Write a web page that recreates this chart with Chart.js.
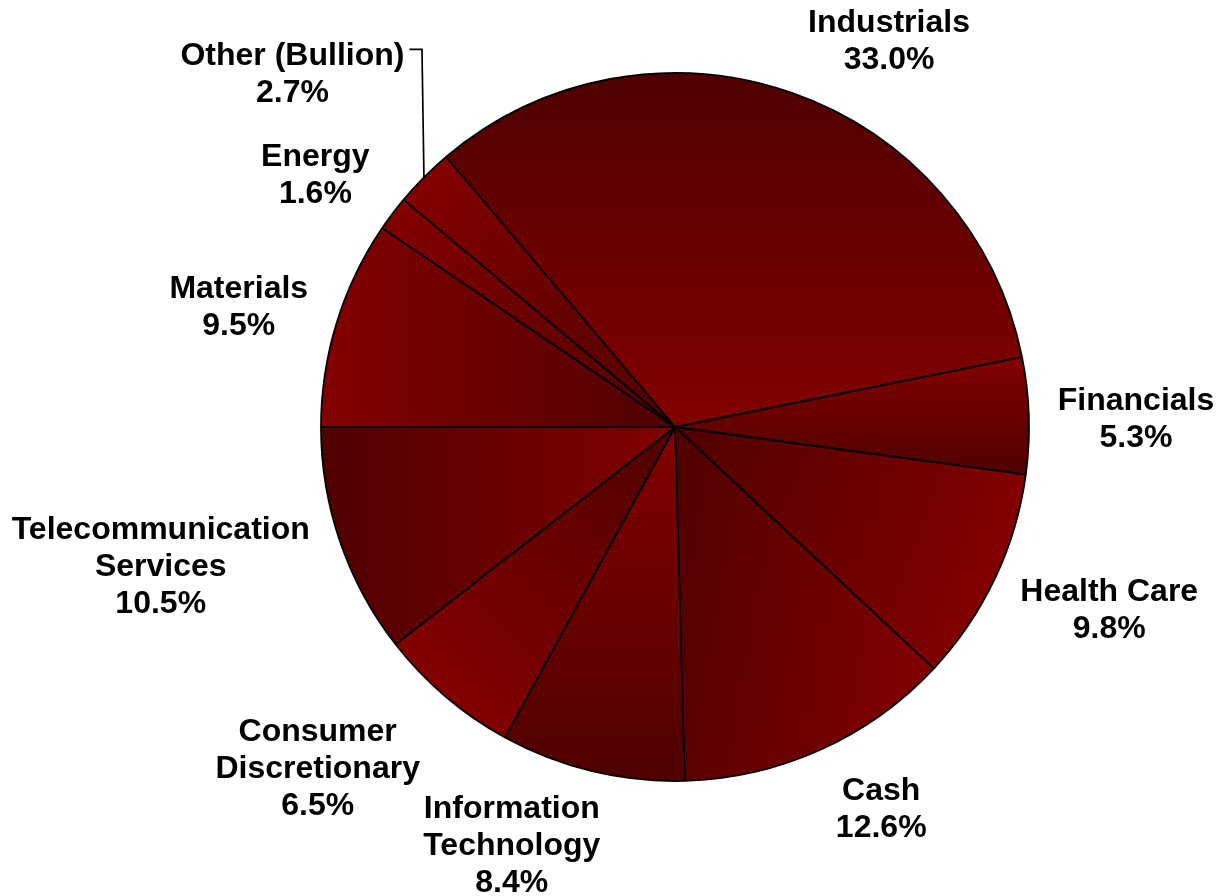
<!DOCTYPE html>
<html>
<head>
<meta charset="utf-8">
<title>Sector allocation</title>
<script src="https://cdn.jsdelivr.net/npm/chart.js@4.4.1/dist/chart.umd.min.js"></script>
<style>
  html, body { margin: 0; padding: 0; background: #fff; }
  canvas { display: block; }
</style>
</head>
<body>
<canvas id="sectorPie" width="1217" height="896"></canvas>
<script>
// sector weights, clockwise from the Industrials slice
const sectors = [
  'Industrials', 'Financials', 'Health Care', 'Cash',
  ['Information', 'Technology'], ['Consumer', 'Discretionary'],
  ['Telecommunication', 'Services'], 'Materials', 'Energy', 'Other (Bullion)'
];
const weights = [33.0, 5.3, 9.8, 12.6, 8.4, 6.5, 10.5, 9.5, 1.6, 2.7];

// gradient direction per slice (degrees, dark -> bright, screen coords)
const shadeDir = [90, 270, 20, 10, 270, 135, 0, 180, 225, 225];
const DARK = '#4f0000', BRIGHT = '#830000';

// label nudges from the default outside placement
const labelNudge = [
  [68, -15], [19, 3], [25, 12], [38, 20], [-57, 15],
  [-55, 25], [-29, 3], [-22, -6], [-26, -16], [-45, -77]
];
const leaderFor = [9];

const FONT = 'bold 32px "Liberation Sans", Arial, sans-serif';
const LINE = 37;
const ROTATION = -40.3;

function sliceFill(ctx) {
  const chart = ctx.chart;
  const area = chart.chartArea;
  if (ctx.type !== 'data' || !area) return BRIGHT;
  const data = ctx.dataset.data;
  const total = data.reduce((s, v) => s + v, 0);
  const before = data.slice(0, ctx.dataIndex).reduce((s, v) => s + v, 0);
  const a0 = ROTATION * Math.PI / 180 - Math.PI / 2 + before / total * 2 * Math.PI;
  const a1 = a0 + data[ctx.dataIndex] / total * 2 * Math.PI;
  const cx = (area.left + area.right) / 2, cy = (area.top + area.bottom) / 2;
  const r = chart.options.radius;
  const d = shadeDir[ctx.dataIndex] * Math.PI / 180;
  const ux = Math.cos(d), uy = Math.sin(d);
  // extent of the sector along the gradient direction
  let lo = 0, hi = 0;
  for (let i = 0; i <= 40; i++) {
    const a = a0 + (a1 - a0) * i / 40;
    const p = Math.cos(a) * r * ux + Math.sin(a) * r * uy;
    lo = Math.min(lo, p); hi = Math.max(hi, p);
  }
  const g = chart.ctx.createLinearGradient(cx + ux * lo, cy + uy * lo, cx + ux * hi, cy + uy * hi);
  g.addColorStop(0, DARK);
  g.addColorStop(1, BRIGHT);
  return g;
}

const outsideLabels = {
  id: 'outsideLabels',
  afterDraw(chart) {
    const ctx = chart.ctx;
    const meta = chart.getDatasetMeta(0);
    const values = chart.data.datasets[0].data;
    ctx.save();
    ctx.font = FONT;
    ctx.fillStyle = '#000';
    ctx.textAlign = 'center';
    ctx.textBaseline = 'alphabetic';
    meta.data.forEach((arc, i) => {
      const { x, y, startAngle, endAngle, outerRadius } =
        arc.getProps(['x', 'y', 'startAngle', 'endAngle', 'outerRadius'], true);
      const mid = (startAngle + endAngle) / 2;
      const name = chart.data.labels[i];
      const lines = (Array.isArray(name) ? name.slice() : [name]);
      lines.push(values[i].toFixed(1) + '%');
      const w = Math.max(...lines.map(t => ctx.measureText(t).width));
      const h = (lines.length - 1) * LINE + 24;
      const ax = x + Math.cos(mid) * (outerRadius + 10);
      const ay = y + Math.sin(mid) * (outerRadius + 10);
      const bx = ax + Math.cos(mid) * w / 2 + labelNudge[i][0];
      const by = ay + Math.sin(mid) * h / 2 + labelNudge[i][1];
      const top = by - (lines.length - 1) * LINE / 2;
      lines.forEach((t, k) => ctx.fillText(t, bx, top + k * LINE + 11.5));

      if (leaderFor.includes(i)) {
        const px = x + Math.cos(mid) * outerRadius;
        const py = y + Math.sin(mid) * outerRadius;
        const w0 = ctx.measureText(lines[0]).width;
        ctx.beginPath();
        ctx.strokeStyle = '#000';
        ctx.lineWidth = 1.7;
        ctx.moveTo(bx + w0 / 2 + 5, top - 4);
        ctx.lineTo(px - 2, top - 4);
        ctx.lineTo(px, py);
        ctx.stroke();
      }
    });
    ctx.restore();
  }
};

new Chart(document.getElementById('sectorPie'), {
  type: 'pie',
  data: {
    labels: sectors,
    datasets: [{
      data: weights,
      backgroundColor: sliceFill,
      borderColor: '#000',
      borderWidth: 1.8
    }]
  },
  options: {
    responsive: false,
    animation: false,
    rotation: ROTATION,
    radius: 354,
    layout: { padding: { left: 133, right: 0, top: 0, bottom: 42 } },
    plugins: { legend: { display: false }, tooltip: { enabled: false } }
  },
  plugins: [outsideLabels]
});
</script>
</body>
</html>
